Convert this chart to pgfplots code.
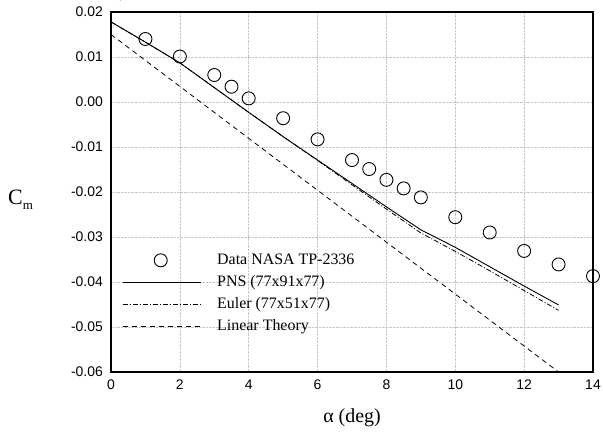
\documentclass[border=0pt]{standalone}
\usepackage{pgfplots}
\pgfplotsset{compat=1.18}
\usepackage{fontspec}
\setmainfont{Liberation Serif}
\newfontfamily\arialfont{Liberation Sans}

\pgfplotstableread{
a cm
1 0.0140
2 0.0101
3 0.0060
3.5 0.0034
4 0.0008
5 -0.0036
6 -0.0083
7 -0.0129
7.5 -0.0149
8 -0.0173
8.5 -0.0192
9 -0.0212
10 -0.0256
11 -0.0290
12 -0.0331
13 -0.0361
14 -0.0387
}\datatab

\pgfplotstableread{
a cm
0 0.0178
1 0.0133
2 0.0087
3 0.0032
4 -0.0023
5 -0.0077
6 -0.0129
7 -0.0181
8 -0.0233
9 -0.0284
10 -0.0323
11 -0.0366
12 -0.0409
13 -0.0451
}\pnstab

\pgfplotstableread{
a cm
0 0.0178
1 0.0133
2 0.0087
3 0.0032
4 -0.0023
5 -0.0077
6 -0.0130
7 -0.0184
8 -0.0238
9 -0.0291
10 -0.0332
11 -0.0375
12 -0.0419
13 -0.0463
}\eulertab

\pgfplotstableread{
a cm
0 0.0150
13 -0.0600
}\lintab

\pgfplotsset{
  linelegend/.style={legend image code/.code={\draw[##1] (0bp,0bp) -- (78bp,0bp);}},
  circlegend/.style={legend image code/.code={\path (0bp,0bp) (78bp,0bp); \draw[##1] plot coordinates {(38bp,0bp)};}},
}

\begin{document}
\begin{tikzpicture}
\begin{axis}[
  scale only axis,
  width=482bp, height=360bp,
  xmin=0, xmax=14, ymin=-0.06, ymax=0.02,
  xtick={0,2,4,6,8,10,12,14},
  xticklabels={0,2,4,6,8,10,12,14},
  ytick={-0.06,-0.05,-0.04,-0.03,-0.02,-0.01,0,0.01,0.02},
  yticklabels={-0.06,-0.05,-0.04,-0.03,-0.02,-0.01,0.00,0.01,0.02},
  major tick length=0pt,
  axis line style={line width=1.3bp, black},
  grid=major,
  major grid style={densely dotted, black!22, line width=0.6bp},
  tick label style={font=\arialfont\fontsize{14}{14}\selectfont, inner sep=0pt},
  yticklabel style={xshift=-8bp},
  xticklabel style={yshift=-8bp},
  xlabel={α (deg)},
  every axis x label/.style={at={(axis description cs:0.5,0)}, anchor=base, yshift=-51bp, inner sep=0pt, font=\fontsize{20}{20}\selectfont},
  ylabel={C\raisebox{-5bp}{\fontsize{13}{13}\selectfont m}},
  every axis y label/.style={at={(axis description cs:0,0.5)}, anchor=base west, xshift=-103bp, yshift=-13bp, inner sep=0pt, font=\fontsize{22}{22}\selectfont},
  legend style={draw=none, fill=none, at={(rel axis cs:0.023,0.333)}, anchor=north west,
    font=\fontsize{16}{18}\selectfont, inner sep=0pt, row sep=5.5bp},
  legend cell align=left,
  linelegend,
]
\addplot[only marks, mark=o, mark size=6.5bp, line width=0.9bp, black, circlegend] table[x=a,y=cm] {\datatab};
\addlegendentry{\hspace{14bp}Data NASA TP-2336}
\addplot[black, line width=0.9bp, no marks] table[x=a,y=cm] {\pnstab};
\addlegendentry{\hspace{14bp}PNS (77x91x77)}
\addplot[black, line width=0.8bp, no marks, dash pattern=on 5bp off 2bp on 1bp off 2bp] table[x=a,y=cm] {\eulertab};
\addlegendentry{\hspace{14bp}Euler (77x51x77)}
\addplot[black, line width=0.8bp, no marks, dash pattern=on 5bp off 4bp] table[x=a,y=cm] {\lintab};
\addlegendentry{\hspace{14bp}Linear Theory}
\coordinate (sw) at (rel axis cs:0,0);
\coordinate (ne) at (rel axis cs:1,1);
\end{axis}
\pgfresetboundingbox
\path[use as bounding box] ([shift={(-111bp,-61bp)}]sw) rectangle ([shift={(10bp,12bp)}]ne);
\end{tikzpicture}
\end{document}
